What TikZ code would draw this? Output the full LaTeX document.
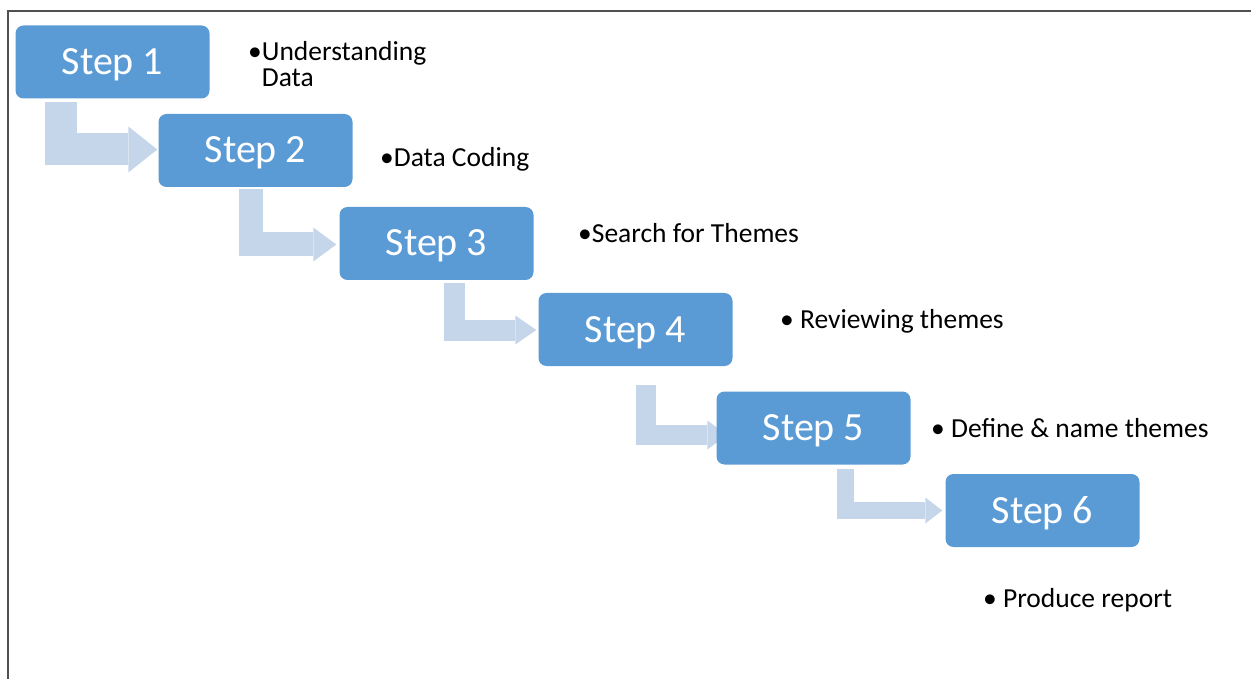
\documentclass[tikz,border=0pt]{standalone}
\usepackage{fontspec}
\setmainfont{Carlito}
\usetikzlibrary{calc,backgrounds}
\definecolor{boxblue}{HTML}{5B9BD5}
\definecolor{arrowblue}{HTML}{C5D5EA}
\definecolor{framegray}{HTML}{505050}
\newcommand\stepflow[5]{%
  \draw[flowline, line width=#3] (#1) |- ($(#2)+(-#4,0)$);
  \fill[arrowblue] ($(#2)+(-#4,-#5)$) -- (#2) -- ($(#2)+(-#4,#5)$) -- cycle;
}
\begin{document}
\begin{tikzpicture}[x=1pt,y=-1pt,
  stepbox/.style={rectangle, rounded corners=8pt, fill=boxblue, minimum width=194pt,
    minimum height=73pt, inner sep=0pt, text=white, font=\fontsize{40}{40}\selectfont,
    text height=25pt, text depth=0pt},
  note/.style={anchor=base west, inner sep=0pt, font=\fontsize{27.5}{26}\selectfont, text=black},
  flowline/.style={draw=arrowblue, line join=miter, line cap=butt},
  frame/.style={draw=framegray, line width=2pt}]
\useasboundingbox (0,0) rectangle (1251,679);
\draw[frame] (8,679) -- (8,11) -- (1251,11);

\node[stepbox] (s1) at (112.5,62) {Step 1};
\node[stepbox] (s2) at (255.5,150.5) {Step 2};
\node[stepbox] (s3) at (436.5,243.5) {Step 3};
\node[stepbox] (s4) at (635.5,329.5) {Step 4};
\node[stepbox] (s5) at (813.5,428) {Step 5};
\node[stepbox] (s6) at (1042.5,510.5) {Step 6};

\node[note] (n1) at (248,61) {•Understanding};
\node[note] (n1b) at ($(n1.base west)+(0,25.5)$) {\hphantom{•}Data};
\node[note] (n2) at (380,167) {•Data Coding};
\node[note] (n3) at (578,243) {•Search for Themes};
\node[note] (n4) at (780,328) {• Reviewing themes};
\node[note] (n5) at (931,437) {• Define \& name themes};
\node[note] (n6) at (983,607) {• Produce report};

\begin{scope}[on background layer]
  \coordinate (a1s) at ($(s1.south west)+(46,3)$);
  \coordinate (a1e) at ($(s2.west)+(-1,-1)$);
  \stepflow{a1s}{a1e}{32pt}{29}{23}
  \coordinate (a2s) at ($(s2.south west)+(92.5,2)$);
  \coordinate (a2e) at ($(s3.west)+(-3,1)$);
  \stepflow{a2s}{a2e}{24pt}{23}{17}
  \coordinate (a3s) at ($(s3.south west)+(115.5,3)$);
  \coordinate (a3e) at ($(s4.west)+(-2,0.5)$);
  \stepflow{a3s}{a3e}{21pt}{21}{14.5}
  \coordinate (a4s) at ($(s4.south west)+(107.5,19)$);
  \coordinate (a4e) at ($(s5.west)+(11,7)$);
  \stepflow{a4s}{a4e}{20pt}{20}{14.5}
  \coordinate (a5s) at ($(s5.south west)+(129,4)$);
  \coordinate (a5e) at ($(s6.west)+(-3,0)$);
  \stepflow{a5s}{a5e}{17.5pt}{17}{13}
\end{scope}
\end{tikzpicture}
\end{document}
